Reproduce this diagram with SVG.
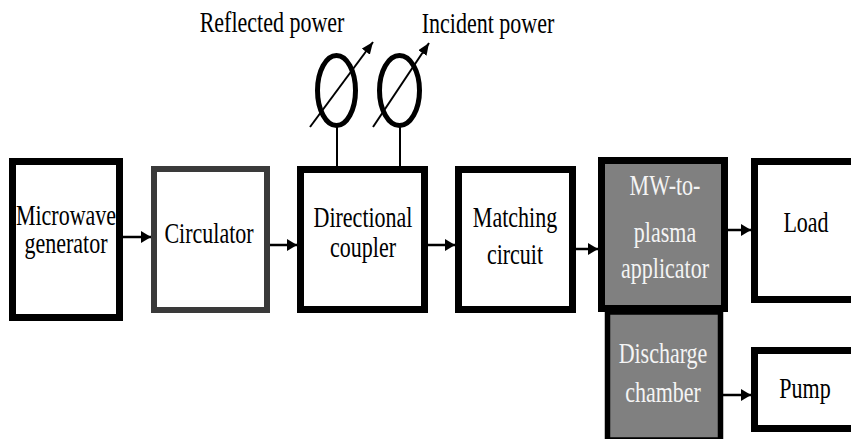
<svg xmlns="http://www.w3.org/2000/svg" width="851" height="439" viewBox="0 0 851 439">
<defs>
<style>
.box{fill:#fff;stroke:#000;stroke-width:7}
.dark{fill:#fff;stroke:#3a3a3a;stroke-width:6}
.gray{fill:#808080;stroke:#000;stroke-width:7}
.t{font-size:22px;fill:#000;text-anchor:middle}
.w{fill:#f4f4f4}
.c{stroke:#000;stroke-width:2.5;fill:none}
.thin{stroke:#000;stroke-width:2;fill:none}
.meter{fill:none;stroke:#000;stroke-width:5}
</style>
<marker id="ah" viewBox="0 0 10 12" refX="10" refY="6" markerWidth="10" markerHeight="12" markerUnits="userSpaceOnUse" orient="auto">
<path d="M0,0 L10,6 L0,12 Z" fill="#000"/>
</marker>
<marker id="ah2" viewBox="0 0 12 10" refX="12" refY="5" markerWidth="12" markerHeight="10" markerUnits="userSpaceOnUse" orient="auto">
<path d="M0,0 L12,5 L0,10 Z" fill="#000"/>
</marker>
</defs>
<rect width="851" height="439" fill="#fff"/>

<g font-family="'Liberation Serif', 'Times New Roman', Tinos, 'DejaVu Serif', serif">
<g id="labels">
<text class="t" transform="translate(272,32) scale(1,1.37)">Reflected power</text>
<text class="t" transform="translate(488,33) scale(1,1.37)">Incident power</text>
</g>

<g id="meter-reflected">
<ellipse class="meter" cx="336.5" cy="90.5" rx="19" ry="35"/>
<line class="thin" x1="310" y1="127" x2="373" y2="42" marker-end="url(#ah2)"/>
</g>
<g id="meter-incident">
<ellipse class="meter" cx="399.5" cy="90.5" rx="20" ry="35"/>
<line class="thin" x1="373" y1="127" x2="429" y2="43" marker-end="url(#ah2)"/>
</g>

<g id="microwave-generator">
<rect class="box" x="12.5" y="161.5" width="107" height="156"/>
<text class="t" transform="translate(66,225) scale(1,1.37)">Microwave</text>
<text class="t" transform="translate(66,253) scale(1,1.37)">generator</text>
</g>

<g id="circulator">
<rect class="dark" x="154" y="169" width="113" height="141"/>
<text class="t" transform="translate(209,243) scale(1,1.37)">Circulator</text>
</g>

<g id="directional-coupler">
<rect class="box" x="300.5" y="169.5" width="124" height="140"/>
<text class="t" transform="translate(363,227) scale(1,1.37)">Directional</text>
<text class="t" transform="translate(363,257) scale(1,1.37)">coupler</text>
</g>

<g id="matching-circuit">
<rect class="box" x="458.5" y="169.5" width="114" height="140"/>
<text class="t" transform="translate(515,227) scale(1,1.37)">Matching</text>
<text class="t" transform="translate(515,264) scale(1,1.37)">circuit</text>
</g>

<g id="discharge-chamber">
<rect class="gray" x="607.5" y="312" width="113" height="128" style="stroke-width:5.5"/>
<text class="t w" transform="translate(663,363) scale(1,1.37)">Discharge</text>
<text class="t w" transform="translate(663,402) scale(1,1.37)">chamber</text>
</g>

<g id="mw-to-plasma-applicator">
<rect class="gray" x="601.5" y="160.5" width="123" height="148"/>
<text class="t w" transform="translate(665,195) scale(1,1.37)">MW-to-</text>
<text class="t w" transform="translate(665,242) scale(1,1.37)">plasma</text>
<text class="t w" transform="translate(665,278) scale(1,1.37)">applicator</text>
</g>

<g id="load">
<rect class="box" x="754.5" y="161.5" width="110" height="138"/>
<text class="t" transform="translate(806,232) scale(1,1.37)">Load</text>
</g>

<g id="pump">
<rect class="box" x="754.5" y="350.5" width="110" height="78"/>
<text class="t" transform="translate(805,398) scale(1,1.37)">Pump</text>
</g>
</g>

<g id="connectors">
<line class="thin" x1="337" y1="126" x2="337" y2="166"/>
<line class="thin" x1="400" y1="126" x2="400" y2="166"/>
<line class="c" x1="123" y1="237" x2="151" y2="237" marker-end="url(#ah)"/>
<line class="c" x1="270" y1="245" x2="297" y2="245" marker-end="url(#ah)"/>
<line class="c" x1="428" y1="245" x2="455" y2="245" marker-end="url(#ah)"/>
<line class="c" x1="576" y1="249" x2="598" y2="249" marker-end="url(#ah)"/>
<line class="c" x1="728" y1="230" x2="751" y2="230" marker-end="url(#ah)"/>
<line class="c" x1="723" y1="395" x2="751" y2="395" marker-end="url(#ah)"/>
</g>
</svg>
